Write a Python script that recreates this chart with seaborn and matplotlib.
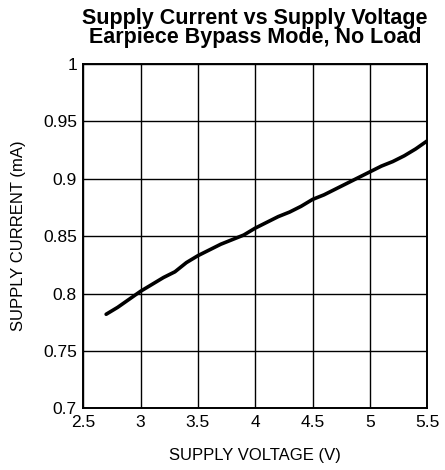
import matplotlib
matplotlib.use("Agg")
import matplotlib.pyplot as plt
import seaborn as sns
import pandas as pd

# Supply current measured across supply voltage (earpiece bypass mode, no load)
voltage = [2.7, 2.8, 2.9, 3.0, 3.1, 3.2, 3.3, 3.4, 3.5, 3.6, 3.7, 3.8, 3.9, 4.0,
           4.1, 4.2, 4.3, 4.4, 4.5, 4.6, 4.7, 4.8, 4.9, 5.0, 5.1, 5.2, 5.3, 5.4, 5.5]
current = [0.782, 0.788, 0.795, 0.802, 0.808, 0.814, 0.819, 0.827, 0.833, 0.838,
           0.843, 0.847, 0.851, 0.857, 0.862, 0.867, 0.871, 0.876, 0.882, 0.886,
           0.891, 0.896, 0.901, 0.906, 0.911, 0.915, 0.920, 0.926, 0.933]

x_ticks = [2.5, 3, 3.5, 4, 4.5, 5, 5.5]
x_labels = ["2.5", "3", "3.5", "4", "4.5", "5", "5.5"]
y_ticks = [0.7, 0.75, 0.8, 0.85, 0.9, 0.95, 1]
y_labels = ["0.7", "0.75", "0.8", "0.85", "0.9", "0.95", "1"]

df = pd.DataFrame({"voltage": voltage, "current": current})

sns.set_style("white")
plt.rcParams["font.family"] = ["Liberation Sans", "DejaVu Sans"]
plt.rcParams["text.color"] = "black"
plt.rcParams["axes.labelcolor"] = "black"

fig = plt.figure(figsize=(4.45, 4.70), dpi=100)
ax = fig.add_axes([0.187, 0.131, 0.773, 0.733])

sns.lineplot(data=df, x="voltage", y="current", ax=ax, color="black",
             linewidth=2.6, solid_capstyle="round")

ax.set_xlim(2.5, 5.5)
ax.set_ylim(0.7, 1.0)
ax.set_xticks(x_ticks)
ax.set_xticklabels(x_labels)
ax.set_yticks(y_ticks)
ax.set_yticklabels(y_labels)
ax.grid(True, color="black", linewidth=1.0)
ax.set_axisbelow(True)
for s in ax.spines.values():
    s.set_color("black")
    s.set_linewidth(1.4)
ax.tick_params(axis="both", length=0, labelsize=12.5, colors="black", pad=4.5)

ax.set_xlabel("SUPPLY VOLTAGE (V)", fontsize=12, labelpad=13, color="black")
ax.set_ylabel("SUPPLY CURRENT (mA)", fontsize=12, labelpad=12, color="black")
ax.set_title("Supply Current vs Supply Voltage\nEarpiece Bypass Mode, No Load",
             fontsize=15.5, fontweight="bold", linespacing=0.85, pad=15,
             color="black")

fig.savefig("out.png", dpi=100)
